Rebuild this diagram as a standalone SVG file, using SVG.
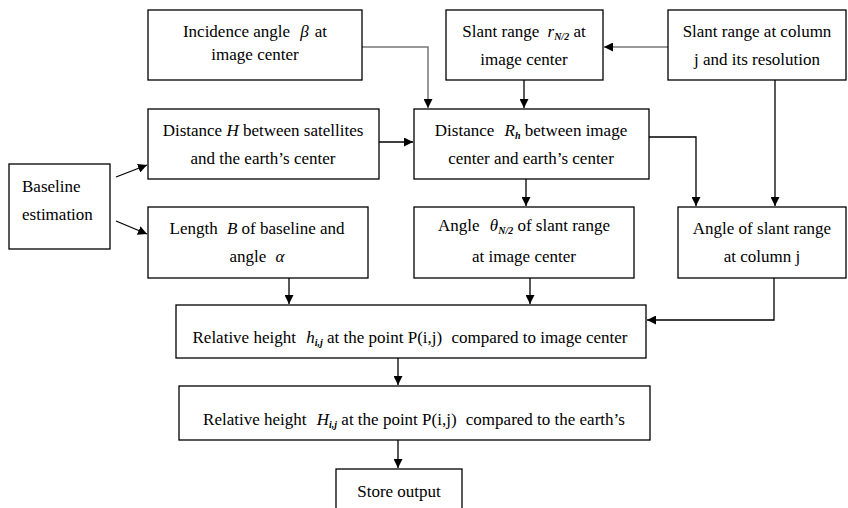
<svg xmlns="http://www.w3.org/2000/svg" width="848" height="508" viewBox="0 0 848 508">
<defs>
<style>
.box{fill:#fff;stroke:#000;stroke-width:1.3}
.t{font-family:"Liberation Serif","Times New Roman",serif;font-size:17px;fill:#000;text-anchor:middle}
.tl{font-family:"Liberation Serif","Times New Roman",serif;font-size:17px;fill:#000}
.m{font-style:italic}
.s{font-size:10px;font-style:italic;font-weight:bold}
.c{fill:none;stroke:#000;stroke-width:1.3}
.g{fill:none;stroke:#777;stroke-width:1.5}
</style>
<marker id="a" viewBox="0 0 10 10" refX="10" refY="5" markerWidth="9" markerHeight="9" markerUnits="userSpaceOnUse" orient="auto">
<path d="M0,0 L10,5 L0,10 z" fill="#000"/>
</marker>
</defs>
<rect width="848" height="508" fill="#fff"/>
<g id="connectors">
<path class="g" d="M362,47 H428 V108" marker-end="url(#a)"/>
<path class="g" d="M668,47 H604" marker-end="url(#a)"/>
<path class="c" d="M524,80 V108" marker-end="url(#a)"/>
<path class="c" d="M379,142 H413" marker-end="url(#a)"/>
<path class="c" d="M116,177 L147,165" marker-end="url(#a)"/>
<path class="c" d="M116,221 L147,234" marker-end="url(#a)"/>
<path class="c" d="M526,179 V206" marker-end="url(#a)"/>
<path class="c" d="M649,137 H696 V206" marker-end="url(#a)"/>
<path class="c" d="M775,80 V206" marker-end="url(#a)"/>
<path class="c" d="M289,278 V304" marker-end="url(#a)"/>
<path class="c" d="M530,278 V304" marker-end="url(#a)"/>
<path class="c" d="M774,278 V320 H647" marker-end="url(#a)"/>
<path class="c" d="M398,358 V385" marker-end="url(#a)"/>
<path class="c" d="M398,440 V468" marker-end="url(#a)"/>
</g>
<g id="incidence">
<rect class="box" x="148" y="10" width="214" height="70"/>
<text class="t" x="255" y="37">Incidence angle <tspan dx="6" class="m">β</tspan><tspan dx="6">at</tspan></text>
<text class="t" x="255" y="60">image center</text>
</g>
<g id="slant-center">
<rect class="box" x="446" y="10" width="157" height="70"/>
<text class="t" x="524" y="37">Slant range <tspan dx="4" class="m">r</tspan><tspan class="s" dy="3">N/2</tspan><tspan dy="-3"> at</tspan></text>
<text class="t" x="524" y="65">image center</text>
</g>
<g id="slant-column">
<rect class="box" x="668" y="10" width="178" height="70"/>
<text class="t" x="757" y="37">Slant range at column</text>
<text class="t" x="757" y="65">j and its resolution</text>
</g>
<g id="distance-H">
<rect class="box" x="148" y="109" width="231" height="70"/>
<text class="t" x="263" y="136">Distance <tspan class="m">H</tspan> between satellites</text>
<text class="t" x="263" y="164">and the earth’s center</text>
</g>
<g id="distance-R">
<rect class="box" x="414" y="109" width="235" height="70"/>
<text class="t" x="531" y="136">Distance <tspan dx="6" class="m">R</tspan><tspan class="s" dy="3">h</tspan><tspan dy="-3"> between image</tspan></text>
<text class="t" x="531" y="164">center and earth’s center</text>
</g>
<g id="baseline">
<rect class="box" x="9" y="164" width="101" height="85"/>
<text class="tl" x="22" y="192">Baseline</text>
<text class="tl" x="22" y="220">estimation</text>
</g>
<g id="length-B">
<rect class="box" x="148" y="207" width="220" height="71"/>
<text class="t" x="257" y="234">Length <tspan dx="5" class="m">B</tspan> of baseline and</text>
<text class="t" x="257" y="262">angle <tspan dx="5" class="m">α</tspan></text>
</g>
<g id="angle-theta">
<rect class="box" x="414" y="207" width="220" height="71"/>
<text class="t" x="524" y="231">Angle <tspan dx="6" class="m">θ</tspan><tspan class="s" dy="3">N/2</tspan><tspan dy="-3"> of slant range</tspan></text>
<text class="t" x="524" y="262">at image center</text>
</g>
<g id="angle-column">
<rect class="box" x="678" y="207" width="168" height="71"/>
<text class="t" x="762" y="234">Angle of slant range</text>
<text class="t" x="762" y="262">at column j</text>
</g>
<g id="relative-h">
<rect class="box" x="176" y="305" width="470" height="53"/>
<text class="t" x="410" y="343">Relative height <tspan dx="6" class="m">h</tspan><tspan class="s" dy="3">i,j</tspan><tspan dy="-3"> at the point P(i,j) </tspan><tspan dx="5">compared to image center</tspan></text>
</g>
<g id="relative-H">
<rect class="box" x="179" y="386" width="471" height="54"/>
<text class="t" x="414" y="425">Relative height <tspan dx="6" class="m">H</tspan><tspan class="s" dy="3">i,j</tspan><tspan dy="-3"> at the point P(i,j) </tspan><tspan dx="5">compared to the earth’s</tspan></text>
</g>
<g id="store">
<rect class="box" x="336" y="469" width="126" height="45"/>
<text class="t" x="399" y="497">Store output</text>
</g>
</svg>
